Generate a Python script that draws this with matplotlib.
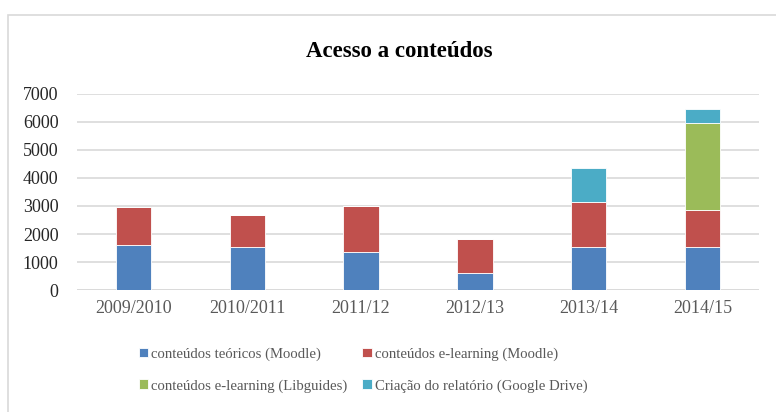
import matplotlib
matplotlib.use("Agg")
import matplotlib.pyplot as plt
import numpy as np
from matplotlib.patches import Rectangle

years = ["2009/2010", "2010/2011", "2011/12", "2012/13", "2013/14", "2014/15"]
teoricos_moodle = [1620, 1525, 1345, 595, 1525, 1525]
elearning_moodle = [1330, 1165, 1655, 1240, 1620, 1335]
elearning_libguides = [0, 0, 0, 0, 0, 3120]
relatorio_gdrive = [0, 0, 0, 0, 1225, 475]

series = [
    ("conteúdos teóricos (Moodle)", teoricos_moodle, "#4F81BD"),
    ("conteúdos e-learning (Moodle)", elearning_moodle, "#C0504D"),
    ("conteúdos e-learning (Libguides)", elearning_libguides, "#9BBB59"),
    ("Criação do relatório (Google Drive)", relatorio_gdrive, "#4BACC6"),
]

plt.rcParams["font.family"] = ["Liberation Serif", "DejaVu Serif"]

fig = plt.figure(figsize=(7.76, 4.12), dpi=100)
ax = fig.add_axes([0.0986, 0.296, 0.880, 0.476])

# light frame around the whole chart
fig.patches.append(Rectangle((8 / 776, -0.1), 1.2, (412 - 15) / 412 + 0.1,
                             transform=fig.transFigure, fill=False,
                             edgecolor="#D9D9D9", linewidth=1.2))

x = np.arange(len(years))
bottom = np.zeros(len(years))
handles = []
for label, vals, color in series:
    vals = np.array(vals, dtype=float)
    h = ax.bar(x, vals, width=0.31, bottom=bottom, color=color,
               edgecolor="white", linewidth=0.6, label=label, zorder=3)
    handles.append(h)
    bottom += vals

ax.set_xlim(-0.5, len(years) - 0.5)
ax.set_ylim(0, 7000)
ax.set_yticks(range(0, 7001, 1000))
ax.set_xticks(x)
ax.set_xticklabels(years, color="#595959", fontsize=13)
ax.tick_params(axis="y", labelsize=13, colors="#262626", length=0, pad=13)
ax.tick_params(axis="x", length=0, pad=7)
ax.yaxis.grid(True, color="#D9D9D9", linewidth=1.2, zorder=0)
for s in ax.spines.values():
    s.set_visible(False)
ax.axhline(0, color="#D9D9D9", linewidth=1.2, zorder=2)

fig.text(0.515, 0.875, "Acesso a conteúdos", ha="center", va="center",
         fontsize=16.5, fontweight="bold", color="black")

# row-wise legend order like the original
order = [0, 2, 1, 3]
fig.legend(handles=[handles[i] for i in order], loc="center",
           bbox_to_anchor=(0.468, 0.102), ncol=2,
           frameon=False, fontsize=10.6, handlelength=0.65, handleheight=0.65,
           handletextpad=0.2, columnspacing=1.0, labelspacing=1.25,
           labelcolor="#595959")

fig.savefig("out.png", dpi=100)
